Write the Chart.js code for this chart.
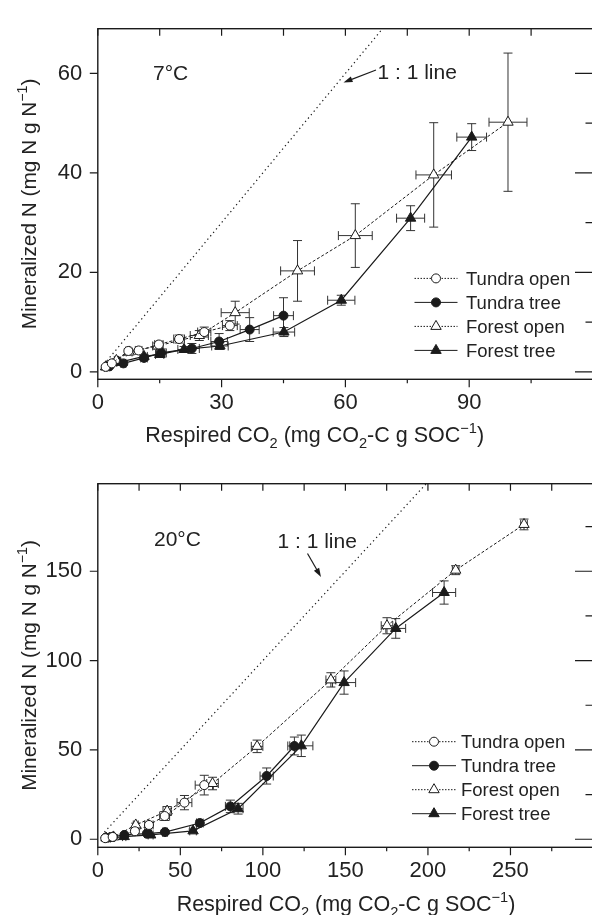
<!DOCTYPE html>
<html>
<head>
<meta charset="utf-8">
<script src="https://cdn.jsdelivr.net/npm/chart.js@4.4.1/dist/chart.umd.min.js"></script>
<style>
html,body{margin:0;padding:0;background:#fff;overflow:hidden;width:592px;height:915px;position:relative}
canvas{position:absolute;left:0}
#c7{top:0}
#c20{top:455px}
</style>
</head>
<body>
<canvas id="c7" width="600" height="455"></canvas>
<canvas id="c20" width="600" height="460"></canvas>
<script>
const FONT="'Liberation Sans', Arial, Helvetica, sans-serif";
const INK='#1b1b1b';

// ---- 7 °C panel ----
const xTicks7=[0,30,60,90], xMinor7=[15,45,75,105];
const yTicks7=[0,20,40,60], yMinor7=[10,30,50];
const oneToOne7=[1.5,69];

const tundraOpen7X=[1.9,3.4,7.4,9.9,14.8,19.7,25.8,32.0];
const tundraOpen7Y=[1.0,1.7,4.2,4.3,5.5,6.6,8.0,9.3];
const tundraOpen7XE=[0.3,0.4,0.6,0.8,1.0,1.3,1.6,1.8];
const tundraOpen7YE=[0.2,0.2,0.4,0.4,0.6,0.8,1.0,1.0];

const tundraTree7X=[2.8,6.2,11.2,15.4,22.8,29.4,36.8,45.0];
const tundraTree7Y=[1.1,1.7,2.8,3.8,4.7,6.1,8.5,11.3];
const tundraTree7XE=[0.4,0.6,0.8,1.2,1.8,2.0,2.3,2.4];
const tundraTree7YE=[0.2,0.3,0.5,0.8,1.0,1.6,2.4,3.6];

const forestOpen7X=[2.0,4.5,7.6,14.5,24.6,33.3,48.4,62.4,81.4,99.4];
const forestOpen7Y=[1.0,2.3,4.0,5.2,7.3,11.9,20.3,27.4,39.6,50.2];
const forestOpen7XE=[0.3,0.5,0.7,1.2,2.2,3.4,4.1,4.1,4.3,4.6];
const forestOpen7YE=[0.2,0.3,0.4,0.6,1.0,2.3,6.1,6.4,10.5,13.9];

const forestTree7X=[1.9,5.1,11.2,15.0,20.9,29.6,45.1,59.0,75.8,90.6];
const forestTree7Y=[1.0,1.9,3.1,3.5,4.5,5.2,8.0,14.4,30.9,47.2];
const forestTree7XE=[0.3,0.5,0.8,1.0,1.5,2.0,2.6,3.3,3.4,3.6];
const forestTree7YE=[0.2,0.3,0.4,0.5,0.6,0.7,0.9,1.0,2.5,2.7];

// ---- 20 °C panel ----
const xTicks20=[0,50,100,150,200,250], xMinor20=[25,75,125,175,225,275];
const yTicks20=[0,50,100,150], yMinor20=[25,75,125,175];
const oneToOne20=[4,199];

const tundraOpen20X=[4.5,9.0,22.5,31.0,40.5,52.5,64.5];
const tundraOpen20Y=[0.6,1.3,4.5,8.0,13.0,20.5,30.3];
const tundraOpen20XE=[0.5,0.8,1.5,2.5,3.0,4.5,5.5];
const tundraOpen20YE=[0.3,0.5,1.0,1.5,2.5,4.0,5.5];

const tundraTree20X=[4.8,8.9,16.1,29.8,40.7,61.8,80.3,102.3,119.1];
const tundraTree20Y=[0.9,1.4,2.4,3.2,4.0,9.1,18.4,35.4,52.2];
const tundraTree20XE=[0.4,0.6,1.0,1.5,1.5,2.0,3.0,4.0,4.0];
const tundraTree20YE=[0.2,0.3,0.5,0.8,1.0,1.5,3.5,4.5,5.0];

const forestOpen20X=[5.0,9.5,23.0,42.0,69.5,96.5,141.2,175.2,216.8,258.2];
const forestOpen20Y=[0.7,1.3,8.0,15.8,31.2,52.0,89.2,119.5,150.6,176.2];
const forestOpen20XE=[0.5,0.8,1.5,2.5,3.5,3.5,3.0,3.5,2.0,2.0];
const forestOpen20YE=[0.2,0.4,1.0,2.5,3.5,3.5,4.0,4.5,2.5,3.0];

const forestTree20X=[7.0,16.0,32.0,57.7,85.0,123.3,149.2,180.5,209.8];
const forestTree20Y=[0.6,1.5,2.4,4.7,17.1,52.3,87.7,118.0,138.1];
const forestTree20XE=[0.5,1.0,1.5,2.0,3.0,7.0,7.0,6.0,7.0];
const forestTree20YE=[0.2,0.3,0.5,1.0,3.0,6.0,6.5,5.5,6.5];

const seriesNames=['Tundra open','Tundra tree','Forest open','Forest tree'];

function pts(xs,ys){return xs.map((x,i)=>({x,y:ys[i]}));}

function series(name,xs,ys,xe,ye){
const open=name.endsWith('open'), tri=name.startsWith('Forest');
return {label:name,data:pts(xs,ys),xErr:xe,yErr:ye,showLine:true,legend:true,
borderColor:INK,borderWidth:open?1:1.2,borderDash:open?[3,2]:[],
pointStyle:tri?'triangle':'circle',pointRadius:tri?6:4.5,
pointBackgroundColor:open?'#fff':INK,pointBorderColor:INK,pointBorderWidth:1,tension:0};
}

function oneLine(r){
return {label:'1:1',data:pts(r,r),showLine:true,borderColor:INK,borderWidth:1.2,borderDash:[1.3,3.2],pointRadius:0};
}

function marker(ctx,style,r,x,y,fill){
ctx.beginPath();
if(style==='circle')ctx.arc(x,y,r,0,Math.PI*2);
else{ctx.moveTo(x,y-r);ctx.lineTo(x+r*0.866,y+r*0.5);ctx.lineTo(x-r*0.866,y+r*0.5);ctx.closePath();}
ctx.fillStyle=fill;ctx.fill();ctx.stroke();
}

// text with sub/superscripts
function rich(ctx,parts,x,y,size,align){
const small=size*0.68;
const w=parts.map(p=>{ctx.font=(p.s?small:size)+'px '+FONT;return ctx.measureText(p.t).width;});
let cx=align==='center'?x-w.reduce((a,b)=>a+b,0)/2:x;
parts.forEach((p,i)=>{
ctx.font=(p.s?small:size)+'px '+FONT;
const dy=p.s==='sub'?size*0.26:p.s==='sup'?-size*0.42:0;
ctx.fillText(p.t,cx,y+dy);cx+=w[i];
});
}

const xTitleParts=[{t:'Respired CO'},{t:'2',s:'sub'},{t:' (mg CO'},{t:'2',s:'sub'},{t:'-C g SOC'},{t:'\u22121',s:'sup'},{t:')'}];
const yTitleParts=[{t:'Mineralized N (mg N g N'},{t:'\u22121',s:'sup'},{t:')'}];

const errorBars={id:'errorBars',beforeDatasetsDraw(chart){
const {ctx,scales:{x,y}}=chart;
ctx.save();ctx.strokeStyle='#333';ctx.lineWidth=1;ctx.setLineDash([]);
const cap=4.5;
chart.data.datasets.forEach(ds=>{
if(!ds.xErr)return;
ds.data.forEach((p,i)=>{
const px=x.getPixelForValue(p.x),py=y.getPixelForValue(p.y);
ctx.beginPath();
const ex=ds.xErr[i],ey=ds.yErr[i];
if(ex){
const l=x.getPixelForValue(p.x-ex),r=x.getPixelForValue(p.x+ex);
ctx.moveTo(l,py);ctx.lineTo(r,py);
ctx.moveTo(l,py-cap);ctx.lineTo(l,py+cap);ctx.moveTo(r,py-cap);ctx.lineTo(r,py+cap);
}
if(ey){
const t=y.getPixelForValue(p.y+ey),b=y.getPixelForValue(p.y-ey);
ctx.moveTo(px,t);ctx.lineTo(px,b);
ctx.moveTo(px-cap,t);ctx.lineTo(px+cap,t);ctx.moveTo(px-cap,b);ctx.lineTo(px+cap,b);
}
ctx.stroke();
});
});
ctx.restore();
}};

const panel={id:'panel',afterDraw(chart,args,o){
const {ctx,chartArea:a,scales:{x,y}}=chart;
ctx.save();
ctx.strokeStyle=INK;ctx.fillStyle=INK;ctx.setLineDash([]);
ctx.lineWidth=1.4;
ctx.strokeRect(a.left,a.top,a.right-a.left,a.bottom-a.top);
ctx.lineWidth=1.2;
ctx.beginPath();
const tk=(x1,y1,x2,y2)=>{ctx.moveTo(x1,y1);ctx.lineTo(x2,y2);};
o.xMajor.forEach(v=>{const p=x.getPixelForValue(v);tk(p,a.bottom,p,a.bottom+8);tk(p,a.top,p,a.top+7);});
o.xMinor.forEach(v=>{const p=x.getPixelForValue(v);tk(p,a.bottom,p,a.bottom+4);tk(p,a.top,p,a.top+7);});
o.yMajor.forEach(v=>{const p=y.getPixelForValue(v);tk(a.left-8,p,a.left,p);tk(a.right-18,p,a.right,p);});
o.yMinor.forEach(v=>{const p=y.getPixelForValue(v);tk(a.right-7.5,p,a.right,p);});
ctx.stroke();

ctx.fillStyle='#222';ctx.textBaseline='alphabetic';ctx.textAlign='left';
rich(ctx,xTitleParts,o.xTitle[0],o.xTitle[1],21.5,'center');
ctx.save();
ctx.translate(o.yTitleX,(a.top+a.bottom)/2);ctx.rotate(-Math.PI/2);
rich(ctx,yTitleParts,0,0,20.8,'center');
ctx.restore();

ctx.font='21px '+FONT;
ctx.fillText(o.label[0],o.label[1],o.label[2]);
ctx.fillText('1 : 1 line',o.note[0],o.note[1]);
// arrow
const [tx,ty,hx,hy]=o.arrow;
const ang=Math.atan2(hy-ty,hx-tx);
ctx.lineWidth=1.2;
ctx.beginPath();ctx.moveTo(tx,ty);ctx.lineTo(hx-Math.cos(ang)*6,hy-Math.sin(ang)*6);ctx.stroke();
ctx.beginPath();ctx.moveTo(hx,hy);
ctx.lineTo(hx-Math.cos(ang)*9+Math.sin(ang)*3,hy-Math.sin(ang)*9-Math.cos(ang)*3);
ctx.lineTo(hx-Math.cos(ang)*9-Math.sin(ang)*3,hy-Math.sin(ang)*9+Math.cos(ang)*3);
ctx.closePath();ctx.fillStyle=INK;ctx.fill();

// legend
const L=o.legend;
chart.data.datasets.filter(d=>d.legend).forEach((d,i)=>{
const base=L.y0+i*L.dy,cy=base-6.6;
ctx.strokeStyle=INK;ctx.lineWidth=1;ctx.setLineDash(d.borderDash.length?[1.5,1.5]:[]);
ctx.beginPath();ctx.moveTo(L.x0,cy);ctx.lineTo(L.x1,cy);ctx.stroke();
ctx.setLineDash([]);
marker(ctx,d.pointStyle,d.pointRadius,L.mx,cy,d.pointBackgroundColor);
ctx.fillStyle='#222';ctx.font='18.5px '+FONT;
ctx.fillText(d.label,L.tx,base);
});
ctx.restore();
}};

function makeChart(id,sets,one,xr,yr,xt,yt,padTop,axisH,po){
return new Chart(document.getElementById(id),{
type:'scatter',
data:{datasets:[...sets,one]},
options:{responsive:false,animation:false,devicePixelRatio:1,
layout:{padding:{left:0,right:2.4,top:padTop,bottom:0}},
plugins:{legend:{display:false},tooltip:{enabled:false},panel:po},
scales:{
x:{type:'linear',min:xr[0],max:xr[1],grid:{display:false,drawTicks:false},border:{display:false},
ticks:{font:{family:FONT,size:22},color:'#222',padding:10.7,maxRotation:0,autoSkip:false,callback:v=>String(v)},
afterBuildTicks:s=>{s.ticks=xt.map(v=>({value:v}));},afterFit:s=>{s.height=axisH;}},
y:{type:'linear',min:yr[0],max:yr[1],grid:{display:false,drawTicks:false},border:{display:false},
ticks:{font:{family:FONT,size:22},color:'#222',padding:15.5,autoSkip:false,callback:v=>String(v)},
afterBuildTicks:s=>{s.ticks=yt.map(v=>({value:v}));},afterFit:s=>{s.width=97.8;}}
}},
plugins:[errorBars,panel]
});
}

makeChart('c7',[
series(seriesNames[0],tundraOpen7X,tundraOpen7Y,tundraOpen7XE,tundraOpen7YE),
series(seriesNames[1],tundraTree7X,tundraTree7Y,tundraTree7XE,tundraTree7YE),
series(seriesNames[2],forestOpen7X,forestOpen7Y,forestOpen7XE,forestOpen7YE),
series(seriesNames[3],forestTree7X,forestTree7Y,forestTree7XE,forestTree7YE)
],oneLine(oneToOne7),[0,120],[-1.5,69],xTicks7,yTicks7,14.7,75.7,{
xMajor:xTicks7,xMinor:xMinor7,yMajor:yTicks7,yMinor:yMinor7,
xTitle:[314.7,442],yTitleX:36,label:['7\u00B0C',153,80],note:[377.5,78.5],arrow:[376,70,343.5,82.5],
legend:{x0:414.5,x1:457.5,mx:436,tx:466,y0:285,dy:24}
});

makeChart('c20',[
series(seriesNames[0],tundraOpen20X,tundraOpen20Y,tundraOpen20XE,tundraOpen20YE),
series(seriesNames[1],tundraTree20X,tundraTree20Y,tundraTree20XE,tundraTree20YE),
series(seriesNames[2],forestOpen20X,forestOpen20Y,forestOpen20XE,forestOpen20YE),
series(seriesNames[3],forestTree20X,forestTree20Y,forestTree20XE,forestTree20YE)
],oneLine(oneToOne20),[0,300],[-4.5,199],xTicks20,yTicks20,27.7,67.7,{
xMajor:xTicks20,xMinor:xMinor20,yMajor:yTicks20,yMinor:yMinor20,
xTitle:[346,456],yTitleX:36,label:['20\u00B0C',154,90.5],note:[277.5,92.5],arrow:[307.5,98.5,321,122],
legend:{x0:412,x1:456,mx:434,tx:461,y0:293.3,dy:24}
});
</script>
</body>
</html>
